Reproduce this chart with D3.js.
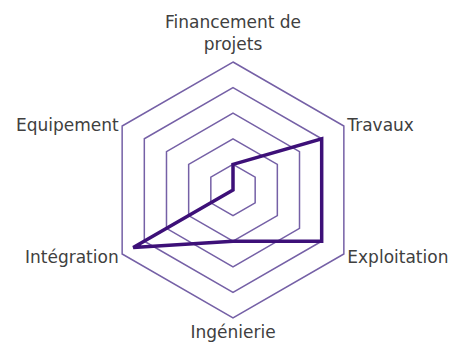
<!DOCTYPE html>
<html>
<head>
<meta charset="utf-8">
<script src="https://cdn.jsdelivr.net/npm/d3@7"></script>
<style>
  html, body { margin: 0; padding: 0; background: #fff; }
  text { font-family: "DejaVu Sans", sans-serif; font-size: 17px; fill: #404040; }
</style>
</head>
<body>
<div id="radar"></div>
<script>
// Axis labels (one entry per spoke, clockwise from the top), split into lines.
const axisLabels = [
  ["Financement de", "projets"],
  ["Travaux"],
  ["Exploitation"],
  ["Ingénierie"],
  ["Intégration"],
  ["Equipement"]
]
// Score on each axis, same order as the labels.
const scores = [1, 4, 4, 2, 4.5, 0]
// Grid rings.
const levels = [1, 2, 3, 4, 5]

const width = 452
const height = 349
const center = {x: 233, y: 190}
const radius = 128

/**
 * Draws the radar chart: hexagon grid, data polygon and labels.
 * @param radarDom
 */
const drawRadar = (radarDom) => {
  const svg = d3.select(radarDom)
    .append("svg")
    .attr("width", width)
    .attr("height", height)

  const rScale = d3.scaleLinear()
    .domain([0, d3.max(levels)])
    .range([0, radius])

  const angleStep = 2 * Math.PI / axisLabels.length

  const chart = svg.append("g")
    .attr("transform", "translate(" + center.x + "," + center.y + ")")

  // Grid rings, one hexagon per level.
  const ring = d3.lineRadial()
    .angle(function (d, i) { return i * angleStep })
    .radius(function (d) { return rScale(d) })
    .curve(d3.curveLinearClosed)

  chart.selectAll(".level")
    .data(levels)
    .enter()
    .append("path")
    .attr("class", "level")
    .attr("d", function (l) { return ring(axisLabels.map(function () { return l })) })
    .attr("fill", "none")
    .attr("stroke", "#7560a6")
    .attr("stroke-width", 1.5)

  // The data polygon.
  const dataLine = d3.lineRadial()
    .angle(function (d, i) { return i * angleStep })
    .radius(function (d) { return rScale(d) })
    .curve(d3.curveLinearClosed)

  chart.append("path")
    .datum(scores)
    .attr("d", dataLine)
    .attr("fill", "none")
    .attr("stroke", "#3d1078")
    .attr("stroke-width", 3.5)
    .attr("stroke-linejoin", "miter")

  // Labels around the outer ring.
  axisLabels.forEach(function (lines, i) {
    const a = i * angleStep
    const sx = Math.sin(a)
    const cy = -Math.cos(a)
    const r = radius + 4
    let x = r * sx
    let y = r * cy
    let anchor = "middle"
    if (sx > 0.1) anchor = "start"
    if (sx < -0.1) anchor = "end"

    const label = chart.append("text")
      .attr("text-anchor", anchor)

    if (Math.abs(sx) < 0.1) {
      // Top and bottom labels sit above / below the vertex.
      const lineHeight = 22
      const baseY = cy < 0 ? -radius - 12 - (lines.length - 1) * lineHeight : radius + 20
      lines.forEach(function (t, j) {
        label.append("tspan")
          .attr("x", x)
          .attr("y", baseY + j * lineHeight)
          .text(t)
      })
    } else {
      label.append("tspan")
        .attr("x", x)
        .attr("y", y + 1)
        .attr("dy", "0.35em")
        .text(lines[0])
    }
  })
}

drawRadar(document.getElementById("radar"))
</script>
</body>
</html>
